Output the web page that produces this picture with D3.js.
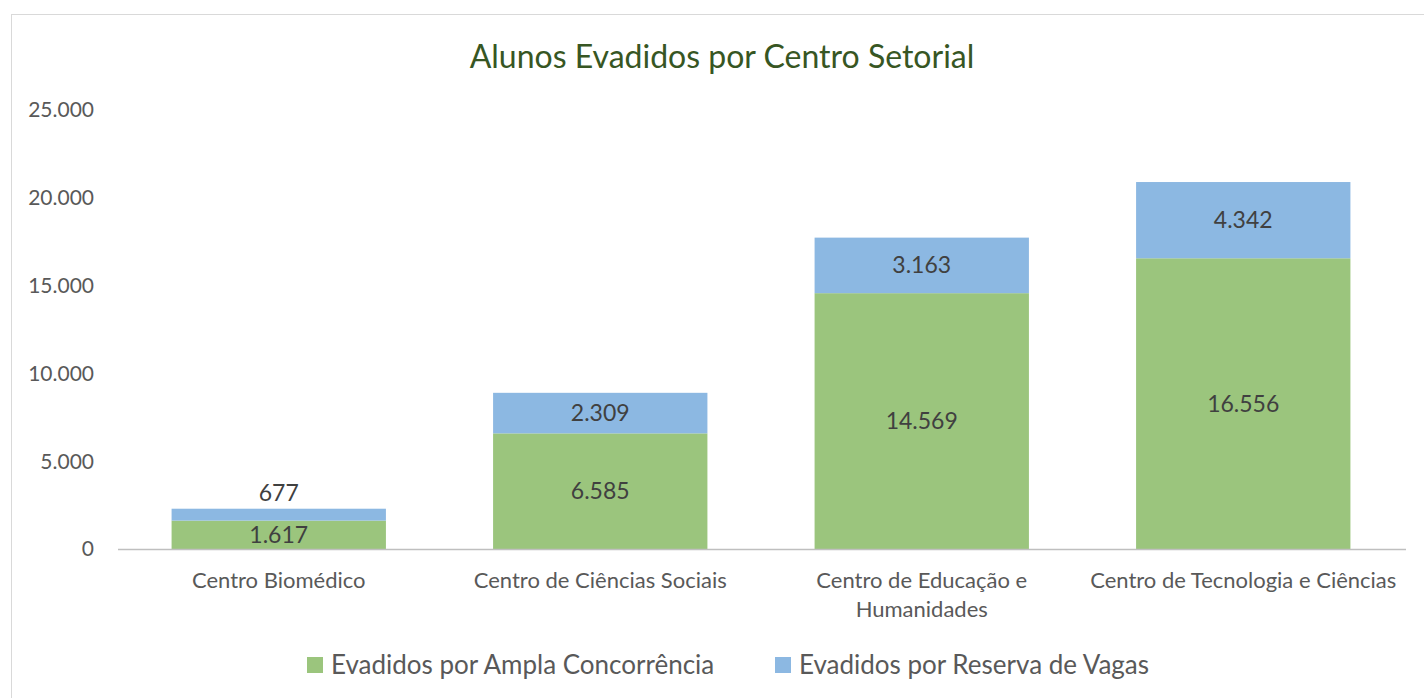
<!DOCTYPE html>
<html>
<head>
<meta charset="utf-8">
<script src="https://cdn.jsdelivr.net/npm/d3@7"></script>
<style>
  body { margin: 0; background: #fff; }
  svg text { font-family: Lato, "Open Sans", sans-serif; }
</style>
</head>
<body>
<svg id="chart" width="1424" height="698"></svg>
<script>
const categories = [
  ["Centro Biomédico"],
  ["Centro de Ciências Sociais"],
  ["Centro de Educação e", "Humanidades"],
  ["Centro de Tecnologia e Ciências"]
];
const ampla = [1617, 6585, 14569, 16556];
const reserva = [677, 2309, 3163, 4342];
const seriesNames = ["Evadidos por Ampla Concorrência", "Evadidos por Reserva de Vagas"];
const yTicks = [0, 5000, 10000, 15000, 20000, 25000];

const colors = ["#9bc57d", "#8cb8e2"];
const fmt = d3.formatLocale({ decimal: ",", thousands: ".", grouping: [3], currency: ["", ""] }).format(",d");

const svg = d3.select("#chart");

// chart border
svg.append("rect")
  .attr("x", 11.5).attr("y", 14.5)
  .attr("width", 1430).attr("height", 700)
  .attr("fill", "none").attr("stroke", "#d9d9d9");

svg.append("text")
  .attr("x", 722).attr("y", 68)
  .attr("text-anchor", "middle")
  .attr("font-size", 32)
  .attr("fill", "#375623")
  .text("Alunos Evadidos por Centro Setorial");

const x = d3.scaleBand()
  .domain(d3.range(categories.length))
  .range([118, 1404])
  .paddingInner(1 / 3)
  .paddingOuter(1 / 6);

const y = d3.scaleLinear().domain([0, 25000]).range([549, 110]);

// y tick labels
svg.append("g")
  .selectAll("text")
  .data(yTicks)
  .enter()
  .append("text")
  .attr("x", 94)
  .attr("y", (d) => y(d))
  .attr("dy", "0.35em")
  .attr("text-anchor", "end")
  .attr("font-size", 21)
  .attr("fill", "#595959")
  .text((d) => fmt(d));

const stackData = categories.map((c, i) => ({ i: i, ampla: ampla[i], reserva: reserva[i] }));
const stacked = d3.stack().keys(["ampla", "reserva"])(stackData);

const layer = svg.append("g")
  .selectAll("g")
  .data(stacked)
  .enter()
  .append("g")
  .attr("fill", (d, k) => colors[k]);

layer.selectAll("rect")
  .data((d) => d)
  .enter()
  .append("rect")
  .attr("x", (d) => x(d.data.i))
  .attr("width", x.bandwidth())
  .attr("y", (d) => y(d[1]))
  .attr("height", (d) => y(d[0]) - y(d[1]));

// baseline
svg.append("line")
  .attr("x1", 118).attr("x2", 1406)
  .attr("y1", y(0) + 0.5).attr("y2", y(0) + 0.5)
  .attr("stroke", "#bfbfbf").attr("stroke-width", 1.5);

// data labels
stacked.forEach((s) => {
  svg.append("g")
    .selectAll("text")
    .data(s)
    .enter()
    .append("text")
    .attr("x", (d) => x(d.data.i) + x.bandwidth() / 2)
    .attr("y", (d) => {
      const h = y(d[0]) - y(d[1]);
      // too thin to fit: put it above the bar
      return h < 24 && s.key === "reserva" ? y(d[1]) - 16 : (y(d[0]) + y(d[1])) / 2;
    })
    .attr("dy", "0.35em")
    .attr("text-anchor", "middle")
    .attr("font-size", 23)
    .attr("fill", "#404040")
    .text((d) => fmt(d.data[s.key]));
});

// category labels
const cat = svg.append("g")
  .selectAll("text")
  .data(categories)
  .enter()
  .append("text")
  .attr("x", (d, i) => x(i) + x.bandwidth() / 2)
  .attr("y", 588)
  .attr("text-anchor", "middle")
  .attr("font-size", 22)
  .attr("fill", "#595959");

cat.selectAll("tspan")
  .data((d) => d)
  .enter()
  .append("tspan")
  .attr("x", function () { return this.parentNode.getAttribute("x"); })
  .attr("dy", (d, j) => (j === 0 ? 0 : 29))
  .text((d) => d);

// legend
const legendX = [307, 775];
const legend = svg.append("g")
  .selectAll("g")
  .data(seriesNames)
  .enter()
  .append("g")
  .attr("transform", (d, i) => "translate(" + legendX[i] + ",657)");

legend.append("rect")
  .attr("width", 16).attr("height", 16)
  .attr("fill", (d, i) => colors[i]);

legend.append("text")
  .attr("x", 24).attr("y", 8)
  .attr("dy", "0.35em")
  .attr("font-size", 26)
  .attr("fill", "#595959")
  .text((d) => d);
</script>
</body>
</html>
